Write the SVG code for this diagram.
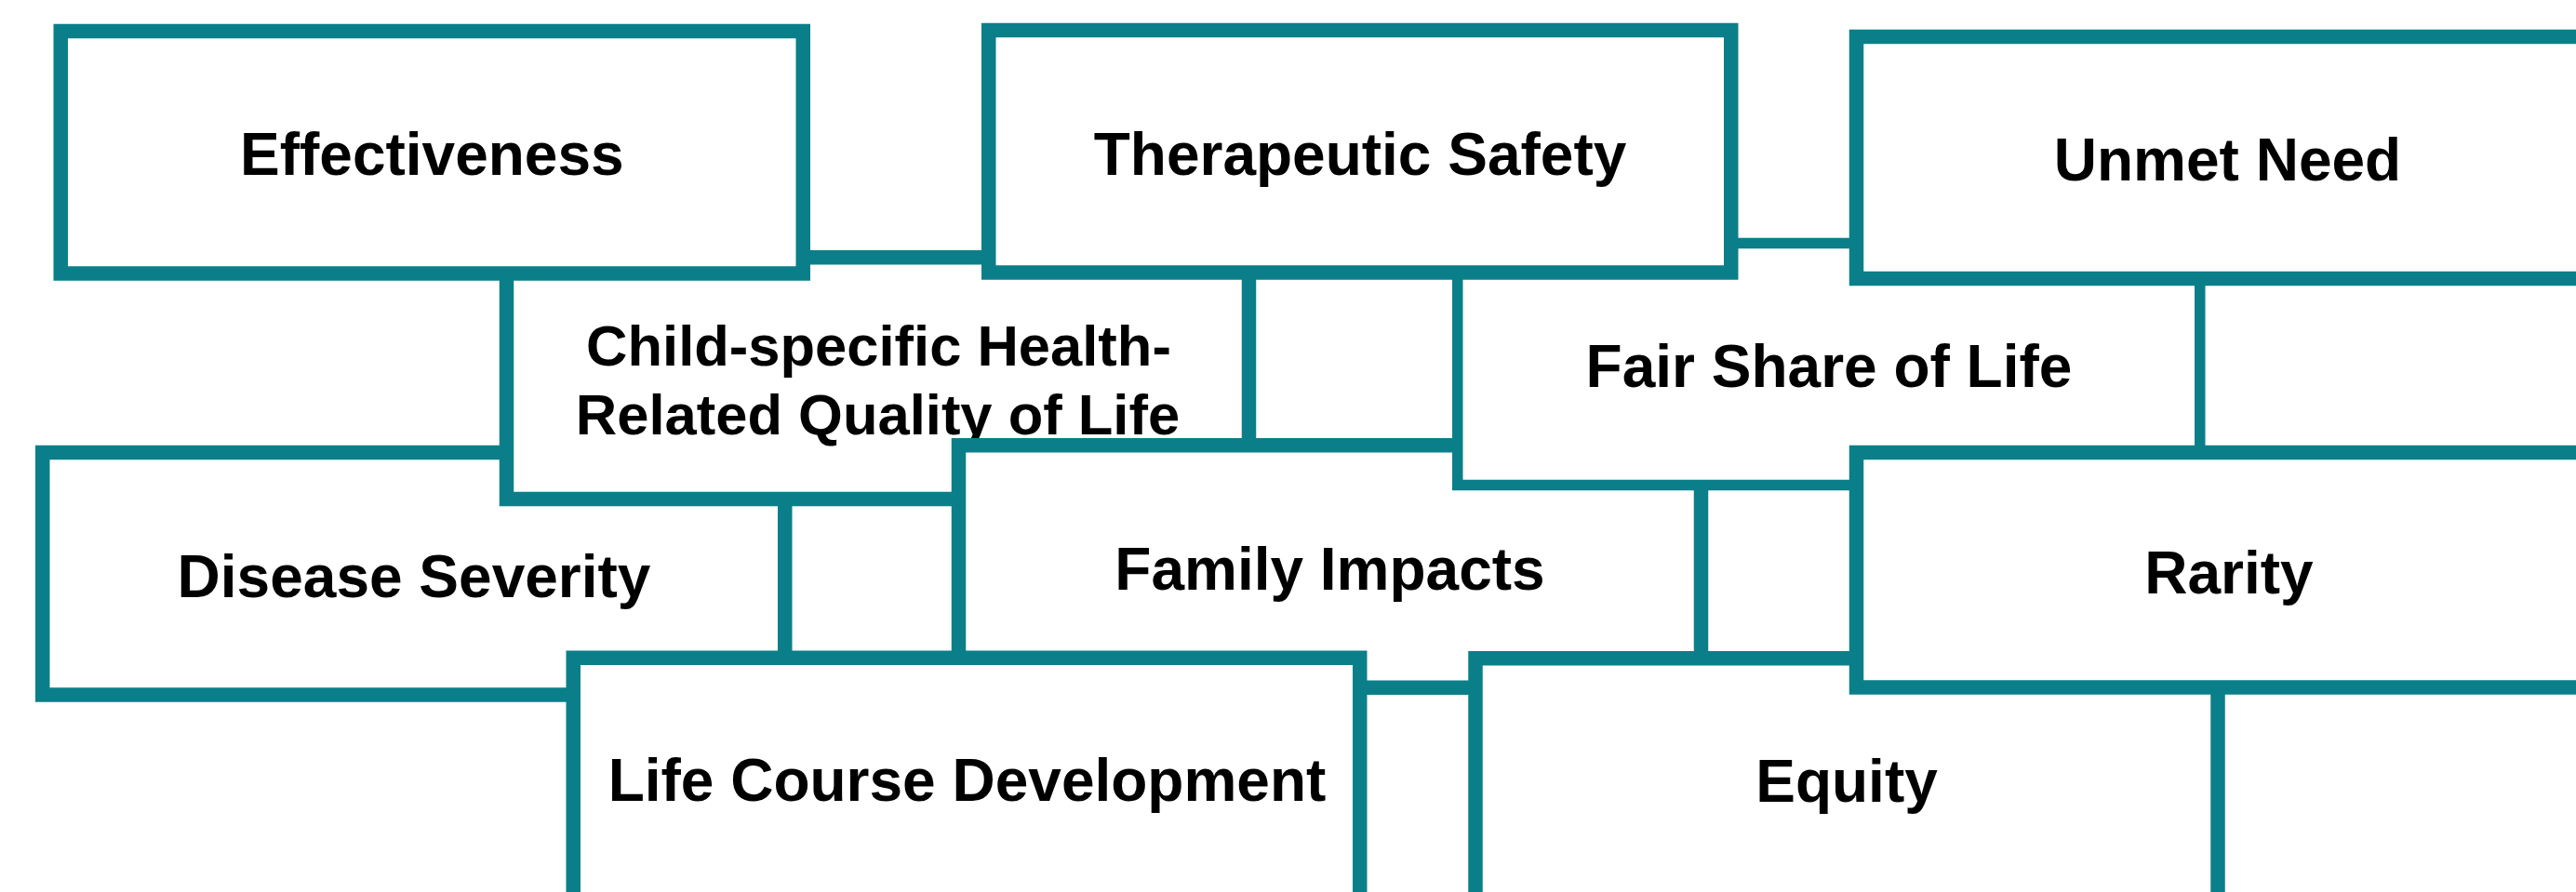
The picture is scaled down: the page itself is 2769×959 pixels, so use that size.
<svg xmlns="http://www.w3.org/2000/svg" width="2769" height="959" viewBox="0 0 2769 959">
  <style>
    .box { fill: #ffffff; stroke: #0b7f89; stroke-width: 15.5; }
    .box.thin { stroke-width: 11.5; }
    .label { font-family: "Liberation Sans", Arial, sans-serif; font-weight: bold; font-size: 64px; fill: #000000; text-anchor: middle; }
    .label.small { font-size: 61.5px; }
  </style>
  <rect x="0" y="0" width="2769" height="959" fill="#ffffff"/>
  <!-- overlapping tiles, painted back to front -->
  <g id="nodes">
    <g id="disease-severity">
      <rect class="box" x="45.75" y="486.5" width="798" height="260.5"/>
      <text class="label" x="445" y="641.5">Disease Severity</text>
    </g>
    <g id="child-hrqol">
      <rect class="box" x="544.5" y="276.75" width="798" height="259.75"/>
      <text class="label small" x="944.5" y="392.7">Child-specific Health-</text>
      <text class="label small" x="943.5" y="466.7">Related Quality of Life</text>
    </g>
    <g id="family-impacts">
      <rect class="box" x="1030.5" y="478.75" width="798" height="260.5"/>
      <text class="label" x="1429.5" y="633.5">Family Impacts</text>
    </g>
    <g id="fair-share">
      <rect class="box thin" x="1566.75" y="261.5" width="798" height="260"/>
      <text class="label" x="1966" y="415.7">Fair Share of Life</text>
    </g>
    <g id="equity">
      <rect class="box" x="1586" y="707.75" width="798" height="260.5"/>
      <text class="label" x="1985" y="862">Equity</text>
    </g>
    <g id="life-course">
      <rect class="box" x="616.25" y="707.25" width="845.5" height="260.5"/>
      <text class="label" x="1039.5" y="861">Life Course Development</text>
    </g>
    <g id="effectiveness">
      <rect class="box" x="65.25" y="33.5" width="798" height="260.5"/>
      <text class="label" x="464.3" y="187.5">Effectiveness</text>
    </g>
    <g id="therapeutic-safety">
      <rect class="box" x="1062.75" y="32.5" width="798" height="260.5"/>
      <text class="label" x="1462" y="187.5">Therapeutic Safety</text>
    </g>
    <g id="unmet-need">
      <rect class="box" x="1995.5" y="39.5" width="798" height="260"/>
      <text class="label" x="2394.5" y="193.9">Unmet Need</text>
    </g>
    <g id="rarity">
      <rect class="box" x="1995.5" y="486.5" width="798" height="252.5"/>
      <text class="label" x="2396" y="637.5">Rarity</text>
    </g>
  </g>
</svg>
